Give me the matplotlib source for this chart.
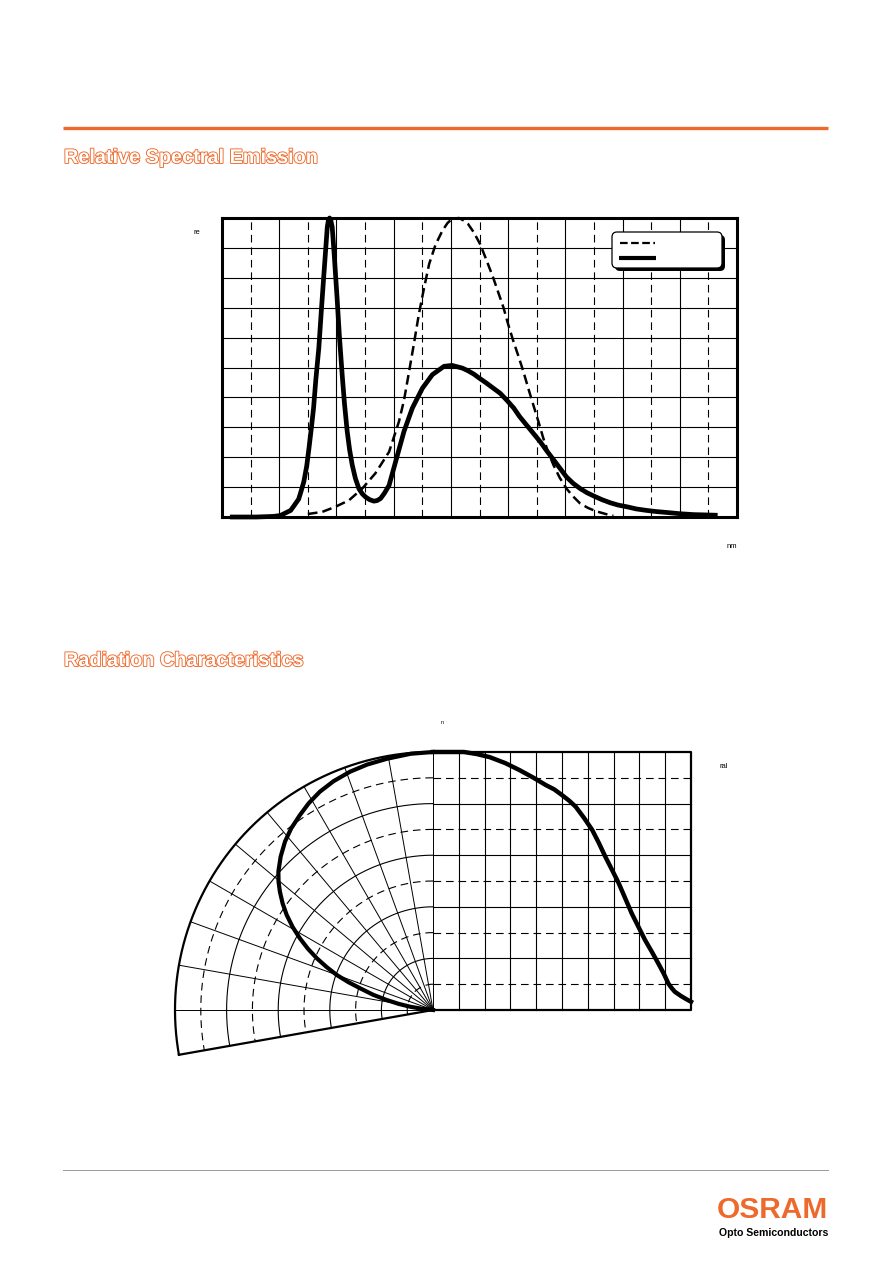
import numpy as np
import matplotlib.pyplot as plt
from matplotlib.patches import FancyBboxPatch
import matplotlib.patheffects as pe

plt.rcParams['font.family'] = ['Liberation Sans', 'DejaVu Sans']
plt.rcParams['lines.scale_dashes'] = False
plt.rcParams['lines.solid_joinstyle'] = 'round'
plt.rcParams['lines.dash_joinstyle'] = 'round'

# === Relative spectral emission (nm, %) ===
wl_led = [359, 380, 395, 401, 410, 413, 417, 419, 421.5, 424, 426, 428, 430,
          432, 434.6, 436.8, 439, 440.5, 442, 443, 444, 445, 446.3, 448, 450.6,
          452.5, 455, 457, 459.4, 461.5, 463.8, 466.5, 469.6, 472.5, 475.4,
          479, 482.7, 485.5, 488.6, 492, 496, 501.7, 509, 516.3, 525, 533.8,
          544, 551, 560, 565, 570, 575, 581, 587, 593, 599, 605, 610, 616, 622,
          628, 634, 640, 651, 657, 663, 669, 675, 682, 689, 696, 704, 712, 721,
          730, 739, 750, 762, 772, 781]
rel_led = [0, 0, 0.2, 0.5, 2.2, 3.8, 6, 8.5, 11.8, 17, 23, 29.5, 36.4,
           46, 56.5, 69, 81, 89, 97, 99.3, 100, 99.3, 97, 88, 73,
           61, 47.6, 38, 28.6, 22.5, 17.4, 13, 9.5, 7.8, 6.7,
           5.8, 5.3, 5.5, 6.2, 8, 10.6, 18.5, 28.6, 36.4, 43, 47.6,
           50.4, 50.7, 49.8, 48.9, 47.8, 46.4, 44.8, 43.1, 41.4, 39, 36.4, 33.6, 30.8, 28,
           25.2, 22, 19, 13.4, 11.2, 9.5, 8.1, 7, 5.8, 4.8, 4, 3.4, 2.7, 2.2,
           1.8, 1.5, 1.1, 0.8, 0.7, 0.6]

wl_eye = [425, 437.5, 449, 461, 472.5, 484, 496, 504.6, 509, 513, 517.5, 522,
          526.5, 531, 536.5, 542.5, 547, 551, 557, 561, 565, 570, 575.5, 581,
          587, 591.5, 596, 600, 604.6, 609, 613.3, 617.5, 622, 626.5, 630.8,
          635, 639.6, 645, 651, 657, 663, 670, 677, 689, 692]
rel_eye = [1.0, 1.7, 3.4, 5.6, 9.5, 14.6, 21.8, 31.9, 39, 47.6, 57.5, 67.8,
           76.5, 84.6, 91, 95.7, 98.3, 99.7, 100, 99.2, 98, 95.2, 91.3, 86,
           80, 75, 70, 64.5, 58.8, 53.8, 48.7, 43.2, 37.5, 31.9, 26.3,
           21.7, 17.4, 13.2, 9.5, 6.8, 4.5, 3, 1.9, 0.6, 0.4]

# === Radiation characteristics (deg, relative intensity) ===
phi_cart = [0, 6, 12, 17, 22, 28, 33.5, 39, 43.7, 47, 50, 52.7, 55.3, 58.5,
            61.7, 64.3, 66.8, 69.4, 72, 74.5, 77, 79.6, 82.2, 84.8, 87.3, 89.5,
            91.2, 92.5, 93.7, 96, 98, 100]
irel_cart = [1.0, 1.0, 1.0, 0.992, 0.98, 0.957, 0.93, 0.9, 0.872, 0.855, 0.833,
             0.812, 0.788, 0.745, 0.698, 0.647, 0.594, 0.543, 0.491, 0.433,
             0.375, 0.323, 0.271, 0.226, 0.181, 0.14, 0.103, 0.085, 0.071,
             0.055, 0.043, 0.032]

phi_polar = [0, 5, 10.4, 15, 19.2, 23.5, 27.4, 31, 34.3, 38, 41.3, 44.8, 48.2,
             50.3, 52.3, 54.7, 57, 59.4, 61.7, 63.9, 66, 68, 70, 71.8, 73.4,
             75.7, 77.8, 79.8, 81.8, 83.5, 85]
irel_polar = [1.0, 0.997, 0.99, 0.985, 0.978, 0.967, 0.953, 0.935, 0.915,
              0.893, 0.869, 0.838, 0.804, 0.778, 0.75, 0.714, 0.676, 0.632,
              0.586, 0.54, 0.493, 0.445, 0.397, 0.345, 0.295, 0.24, 0.184,
              0.137, 0.09, 0.045, 0.0]

W, H = 892, 1261
orange = '#EE6A2C'

fig = plt.figure(figsize=(W / 100, H / 100), dpi=100)

# overlay axes in pixel coordinates for page decoration
page = fig.add_axes([0, 0, 1, 1], zorder=5)
page.set_xlim(0, W)
page.set_ylim(H, 0)
page.axis('off')
page.patch.set_alpha(0)

page.plot([63, 828], [128, 128], color=orange, lw=2.4, solid_capstyle='butt')
page.plot([63, 828], [1170, 1170], color='#9a9a9a', lw=0.7)

title_fx = [pe.withStroke(linewidth=1.3, foreground=orange)]
page.text(64, 163, "Relative Spectral Emission", color='white', fontsize=14.3,
          fontweight='bold', va='baseline', path_effects=title_fx)
page.text(64, 666, "Radiation Characteristics", color='white', fontsize=14.3,
          fontweight='bold', va='baseline', path_effects=title_fx)

page.text(828, 1218, "OSRAM", color=orange, fontsize=21.5, fontweight='bold',
          ha='right', va='baseline')
page.text(828, 1236, "Opto Semiconductors", color='black', fontsize=7.6,
          fontweight='bold', ha='right', va='baseline')

# leftover axis label fragments
page.text(193, 234, "re", fontsize=5.5, va='baseline')
page.text(737, 548, "nm", fontsize=5.5, ha='right', va='baseline')
page.text(441, 724, "n", fontsize=4, va='baseline')
page.text(719, 768, "ral", fontsize=5.5, va='baseline')

# legend box with shadow
page.add_patch(FancyBboxPatch((615, 235), 110, 36, boxstyle='round,pad=0,rounding_size=5',
                              facecolor='black', edgecolor='black', lw=0))
page.add_patch(FancyBboxPatch((612, 232), 110, 36, boxstyle='round,pad=0,rounding_size=5',
                              facecolor='white', edgecolor='black', lw=0.9))
page.plot([620, 655], [243, 243], color='black', lw=1.6, dashes=(5.5, 2.5))
page.plot([619, 656], [258, 258], color='black', lw=3.0, solid_capstyle='butt')

# === spectrum chart ===
ax1 = fig.add_axes([222 / W, 1 - 517 / H, (737 - 222) / W, (517 - 218) / H])
ax1.set_xlim(350, 800)
ax1.set_ylim(0, 100)
for x in range(375, 800, 25):
    if x % 50:
        ax1.axvline(x, color='black', lw=0.8, dashes=(5.5, 3.5))
    else:
        ax1.axvline(x, color='black', lw=0.8)
for y in range(10, 100, 10):
    ax1.axhline(y, color='black', lw=0.8)
ax1.plot(wl_eye, rel_eye, color='black', lw=1.8, dashes=(7, 3.6), clip_on=False)
ax1.plot(wl_led, rel_led, color='black', lw=3.4, clip_on=False)
ax1.set_xticks([])
ax1.set_yticks([])
for s in ax1.spines.values():
    s.set_linewidth(2.2)

# === radiation chart: polar (left) + cartesian (right), 1.0 = 258 px ===
u = 258.0
ox, oy = 433, 1010
xl, xr, yb, yt = -1.1, 1.1, -0.25, 1.1
ax2 = fig.add_axes([(ox + xl * u) / W, 1 - (oy - yb * u) / H,
                    (xr - xl) * u / W, (yt - yb) * u / H])
ax2.set_xlim(xl, xr)
ax2.set_ylim(yb, yt)
ax2.axis('off')

t = np.radians(np.linspace(0, 100, 300))
for k in range(1, 11):
    r = k / 10
    if k == 10:
        ax2.plot(-r * np.sin(t), r * np.cos(t), color='black', lw=1.6)
    elif k % 2:
        ax2.plot(-r * np.sin(t), r * np.cos(t), color='black', lw=0.8, dashes=(5.5, 3.5))
    else:
        ax2.plot(-r * np.sin(t), r * np.cos(t), color='black', lw=0.8)
for a in range(0, 100, 10):
    ar = np.radians(a)
    ax2.plot([0, -np.sin(ar)], [0, np.cos(ar)], color='black', lw=0.7)
ar = np.radians(100)
ax2.plot([0, -np.sin(ar)], [0, np.cos(ar)], color='black', lw=1.6)

for k in range(1, 10):
    ax2.plot([k / 10, k / 10], [0, 1], color='black', lw=0.8)
    if k % 2:
        ax2.plot([0, 1], [k / 10, k / 10], color='black', lw=0.8, dashes=(5.5, 3.5))
    else:
        ax2.plot([0, 1], [k / 10, k / 10], color='black', lw=0.8)
ax2.plot([0, 1, 1, 0], [1, 1, 0, 0], color='black', lw=1.6)

pp = np.radians(phi_polar)
ip = np.array(irel_polar)
ax2.plot(-ip * np.sin(pp), ip * np.cos(pp), color='black', lw=3.0)
ax2.plot(np.array(phi_cart) / 100, irel_cart, color='black', lw=3.2)

fig.savefig("out.png", dpi=100)
